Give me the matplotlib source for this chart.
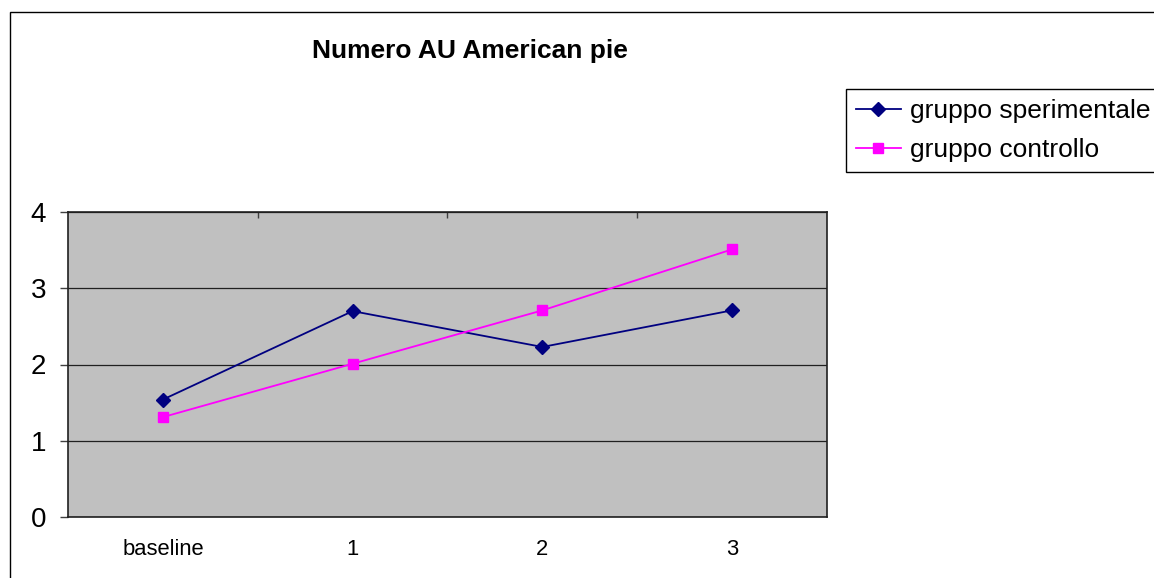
import matplotlib.pyplot as plt
from matplotlib.patches import Rectangle
from matplotlib.ticker import FixedLocator

categories = ['baseline', '1', '2', '3']
sperimentale = [1.54, 2.70, 2.23, 2.71]
controllo = [1.31, 2.01, 2.71, 3.51]
yticks = [0, 1, 2, 3, 4]

plt.rcParams['font.family'] = ['Liberation Sans', 'DejaVu Sans']

W, H = 1154, 578
fig = plt.figure(figsize=(W/100, H/100), dpi=100)
ax = fig.add_axes([68/W, 1-517/H, (827-68)/W, (517-212)/H])
ax.set_facecolor('#C0C0C0')

x = range(len(categories))
ax.plot(x, sperimentale, color='#000080', lw=1.3, marker='D', ms=7.5,
        label='gruppo sperimentale')
ax.plot(x, controllo, color='#FF00FF', lw=1.3, marker='s', ms=7,
        label='gruppo controllo')

ax.set_xlim(-0.5, len(categories)-0.5)
ax.set_ylim(0, 4)
ax.set_yticks(yticks)
ax.set_xticks(list(x))
ax.set_xticklabels(categories, fontsize=15.8)
ax.tick_params(axis='x', length=0, pad=15.5)
ax.tick_params(axis='y', labelsize=20, length=5.8, width=1, color='#404040', pad=10)
ax.xaxis.set_minor_locator(FixedLocator([0.5, 1.5, 2.5]))
ax.tick_params(axis='x', which='minor', top=True, bottom=False, direction='in',
               length=4.5, width=1, color='#404040')
ax.grid(axis='y', color='#202020', lw=0.9)
ax.set_axisbelow(True)
for s in ax.spines.values():
    s.set_color('#202020')
    s.set_linewidth(1.2)

fig.text(470/W, 1-51/H, 'Numero AU American pie', ha='center', va='center',
         fontsize=19, fontweight='bold')

leg = fig.legend(loc='upper left', bbox_to_anchor=(845.7/W, 1-89.3/H),
                 borderaxespad=0, fontsize=19, handlelength=1.7,
                 handletextpad=0.35, labelspacing=0.55, borderpad=0.38,
                 fancybox=False, framealpha=1, edgecolor='black')
leg.get_frame().set_linewidth(1)

fig.add_artist(Rectangle((9.5/W, -0.1), 1.2, 1.1-12/H, transform=fig.transFigure,
                         fill=False, edgecolor='black', lw=1))

fig.savefig('out.png', dpi=100)
